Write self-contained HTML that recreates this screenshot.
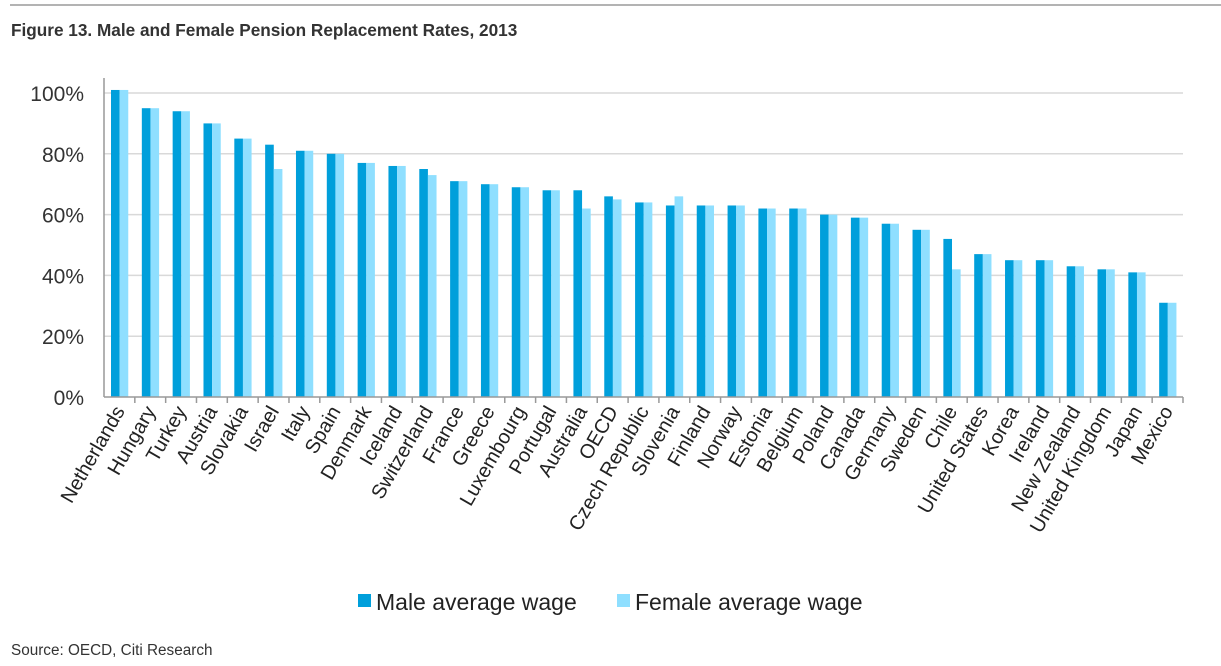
<!DOCTYPE html>
<html><head><meta charset="utf-8"><style>
body{margin:0;background:#fff;width:1221px;height:661px;overflow:hidden;font-family:"Liberation Sans",Arial,sans-serif}
</style></head><body>
<svg width="1221" height="661" id="c" style="font-family:'Liberation Sans',Arial,sans-serif">
<line x1="10" y1="5" x2="1221" y2="5" stroke="#9a9a9a" stroke-width="1.5"/>
<text x="11" y="36" font-size="17.2" font-weight="bold" fill="#333">Figure 13. Male and Female Pension Replacement Rates, 2013</text>
<g id="grid"></g><g id="bars"></g><g id="xl"></g>
<g>
<rect x="358" y="594" width="13" height="13" fill="#009fdb"/>
<text x="376" y="610" font-size="23" fill="#222">Male average wage</text>
<rect x="617" y="594" width="13" height="13" fill="#8fdfff"/>
<text x="635" y="610" font-size="23" fill="#222">Female average wage</text>
</g>
<text x="11" y="655" font-size="15.3" fill="#333">Source: OECD, Citi Research</text>
</svg>
<script>
const categories=["Netherlands","Hungary","Turkey","Austria","Slovakia","Israel","Italy","Spain","Denmark","Iceland","Switzerland","France","Greece","Luxembourg","Portugal","Australia","OECD","Czech Republic","Slovenia","Finland","Norway","Estonia","Belgium","Poland","Canada","Germany","Sweden","Chile","United States","Korea","Ireland","New Zealand","United Kingdom","Japan","Mexico"];
const maleValues=[101,95,94,90,85,83,81,80,77,76,75,71,70,69,68,68,66,64,63,63,63,62,62,60,59,57,55,52,47,45,45,43,42,41,31];
const femaleValues=[101,95,94,90,85,75,81,80,77,76,73,71,70,69,68,62,65,64,66,63,63,62,62,60,59,57,55,42,47,45,45,43,42,41,31];
const yTicks=[0,20,40,60,80,100];
const yTickLabels=["0%","20%","40%","60%","80%","100%"];
const NS="http://www.w3.org/2000/svg";
const x0=104,x1=1183,y0=397,y100=93;
const bw=(x1-x0)/categories.length;
const y=v=>y0-(v/100)*(y0-y100);
const xs=i=>x0+i*bw;
function mk(t,a,p){const e=document.createElementNS(NS,t);for(const k in a)e.setAttribute(k,a[k]);p.appendChild(e);return e;}
const grid=document.getElementById('grid'),bars=document.getElementById('bars'),xl=document.getElementById('xl');
yTicks.forEach((t,i)=>{
 if(t>0){const g=mk('line',{x1:x0,x2:x1,y1:y(t),y2:y(t),stroke:'#d9d9d9','stroke-width':1.5},grid);
 
 }
 const l=mk('text',{x:84,y:y(t)+8,'font-size':21,fill:'#333','text-anchor':'end'},grid);
 l.textContent=yTickLabels[i];
 
 
});
const ax=mk('line',{x1:x0,x2:x0,y1:78,y2:y0,stroke:'#999','stroke-width':1.5},grid);


categories.forEach((c,i)=>{
 const bx=xs(i)+7,w=bw*0.28;
 const m=mk('rect',{x:bx,y:y(maleValues[i]),width:w,height:y0-y(maleValues[i]),fill:'#009fdb'},bars);
 
 
 const f=mk('rect',{x:bx+w,y:y(femaleValues[i]),width:w,height:y0-y(femaleValues[i]),fill:'#8fdfff'},bars);
 
 
 const tk=mk('line',{x1:xs(i+1),x2:xs(i+1),y1:y0,y2:y0+6,stroke:'#999','stroke-width':1.5},xl);
 
 
 const cx=xs(i)+bw/2+6;
 const t=mk('text',{x:cx,y:411,'font-size':20,fill:'#222','text-anchor':'end',transform:`rotate(-60 ${cx} 411)`},xl);
 t.textContent=c;
 
 
});
const xa=mk('line',{x1:x0,x2:x1,y1:y0,y2:y0,stroke:'#999','stroke-width':1.5},xl);


</script>
</body></html>
